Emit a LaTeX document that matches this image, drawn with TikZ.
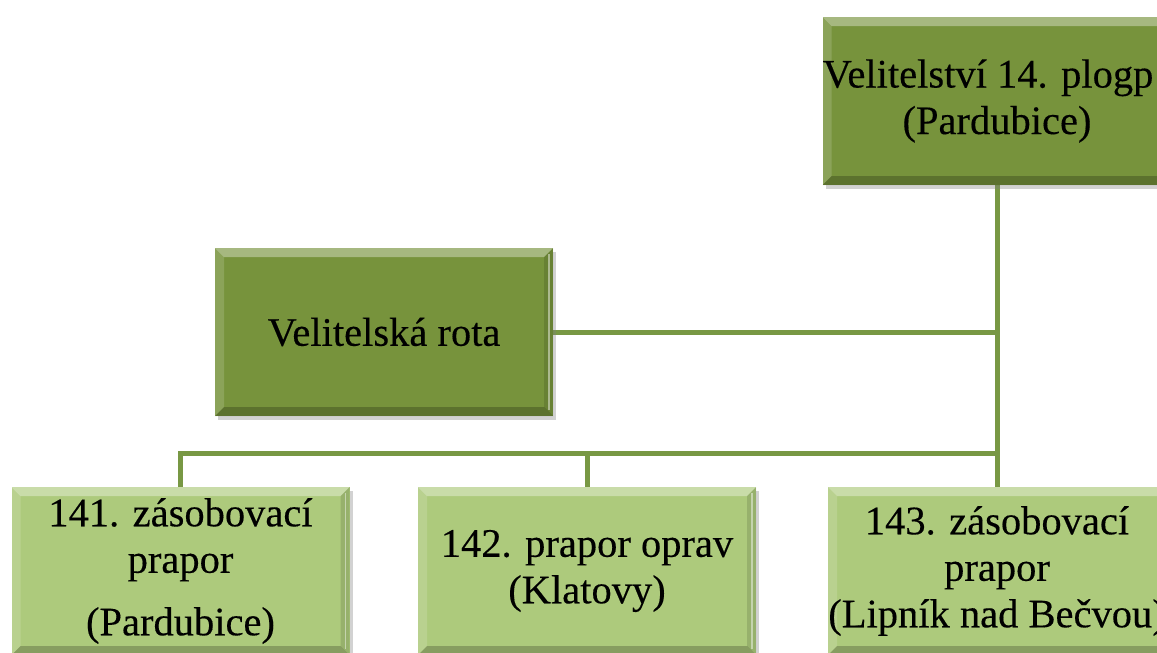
\documentclass[tikz,border=0pt]{standalone}
\usepackage{fontspec}
\setmainfont{Liberation Serif}
\newfontfamily\boxfont{Liberation Serif}[FakeBold=0.3]
\usetikzlibrary{shadows}
\definecolor{darkgreen}{HTML}{77933C}
\definecolor{lightgreen}{HTML}{ADCA7C}
\definecolor{linegreen}{HTML}{789844}
\tikzset{
  bevel/.style={path picture={
    \fill[white,opacity=.35] (path picture bounding box.north west) -- (path picture bounding box.north east)
      -- ([xshift=-9pt,yshift=-9pt]path picture bounding box.north east) -- ([xshift=9pt,yshift=-9pt]path picture bounding box.north west) -- cycle;
    \fill[white,opacity=.15] (path picture bounding box.north west) -- ([xshift=9pt,yshift=-9pt]path picture bounding box.north west)
      -- ([xshift=9pt,yshift=9pt]path picture bounding box.south west) -- (path picture bounding box.south west) -- cycle;
    \fill[black,opacity=.12] (path picture bounding box.north east) -- ([xshift=-9pt,yshift=-9pt]path picture bounding box.north east)
      -- ([xshift=-9pt,yshift=9pt]path picture bounding box.south east) -- (path picture bounding box.south east) -- cycle;
    \fill[black,opacity=.22] (path picture bounding box.south west) -- ([xshift=9pt,yshift=9pt]path picture bounding box.south west)
      -- ([xshift=-9pt,yshift=9pt]path picture bounding box.south east) -- (path picture bounding box.south east) -- cycle;
    \draw[white,opacity=.45,line width=1.5pt] ([xshift=-4pt,yshift=-6pt]path picture bounding box.north east) -- ([xshift=-4pt,yshift=6pt]path picture bounding box.south east);
  }},
  orgbox/.style={rectangle, minimum width=338pt, minimum height=168pt, inner sep=0pt, align=center,
    font=\boxfont\fontsize{40.5}{46.5}\selectfont, text=black,
    drop shadow={shadow xshift=3pt, shadow yshift=-4pt, opacity=.35}, bevel},
  darkbox/.style={orgbox, fill=darkgreen},
  lightbox/.style={orgbox, fill=lightgreen},
  conn/.style={draw=linegreen, line width=5pt}
}
\begin{document}
\begin{tikzpicture}[x=1pt,y=-1pt]
\useasboundingbox (0,0) rectangle (1157,653);
\clip (0,0) rectangle (1157,653);
\fill[white] (0,0) rectangle (1157,653);
% connectors (behind boxes)
\coordinate (bus) at (997,453);
\draw[conn] (997,185) -- (997,487);
\draw[conn] (553,332) -- (997,332);
\draw[conn] (180.5,487) -- (180.5,453) -- (bus);
\draw[conn] (587,487) -- (587,453);
% boxes
\node[darkbox] (cmd) at (997,101) {Velitelství 14. plogp\hphantom{z}\\(Pardubice)};
\node[darkbox] (rota) at (384,332) {Velitelská rota};
\node[lightbox] (b1) at (180.5,571) {141. zásobovací\\prapor\\[16pt](Pardubice)};
\node[lightbox] (b2) at (587,571) {142. prapor oprav\\(Klatovy)};
\node[lightbox] (b3) at (997,571) {143. zásobovací\\prapor\\(Lipník nad Bečvou)};
\end{tikzpicture}
\end{document}
